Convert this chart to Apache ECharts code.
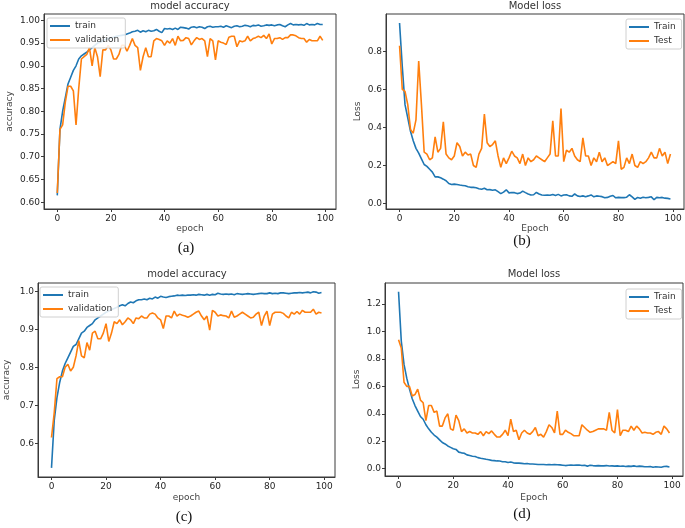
<!DOCTYPE html>
<html><head><meta charset="utf-8">
<script src="https://cdn.jsdelivr.net/npm/echarts@6/dist/echarts.min.js"></script>
<style>html,body{margin:0;padding:0;background:#fff}#c{width:685px;height:528px}</style>
</head><body><div id="c"></div>
<script>
const xTicks = [0, 20, 40, 60, 80, 100];
const aYTicks = [0.60, 0.65, 0.70, 0.75, 0.80, 0.85, 0.90, 0.95, 1.00];
const bYTicks = [0.0, 0.2, 0.4, 0.6, 0.8];
const cYTicks = [0.6, 0.7, 0.8, 0.9, 1.0];
const dYTicks = [0.0, 0.2, 0.4, 0.6, 0.8, 1.0, 1.2];

const aTrain = [0.615,0.76,0.80,0.83,0.86,0.875,0.89,0.90,0.915,0.922,0.926,0.93,0.935,0.94,0.945,0.95,0.952,0.955,0.958,0.96,
0.962,0.963,0.965,0.966,0.967,0.968,0.97,0.972,0.975,0.976,0.978,0.974,0.977,0.975,0.978,0.976,0.977,0.98,0.976,0.973,
0.982,0.981,0.982,0.98,0.983,0.98,0.985,0.984,0.983,0.981,0.985,0.986,0.984,0.986,0.985,0.982,0.986,0.987,0.985,0.986,
0.986,0.987,0.985,0.988,0.986,0.984,0.987,0.988,0.986,0.987,0.989,0.988,0.986,0.989,0.988,0.99,0.987,0.988,0.99,0.989,
0.99,0.988,0.99,0.991,0.988,0.986,0.99,0.993,0.99,0.991,0.99,0.991,0.989,0.993,0.99,0.991,0.99,0.993,0.991,0.991];
const aVal = [0.62,0.76,0.77,0.82,0.855,0.855,0.845,0.77,0.85,0.915,0.92,0.925,0.94,0.90,0.94,0.92,0.876,0.935,0.935,0.945,
0.935,0.915,0.915,0.925,0.945,0.945,0.932,0.945,0.96,0.945,0.94,0.89,0.92,0.94,0.92,0.92,0.955,0.96,0.958,0.955,
0.945,0.955,0.95,0.96,0.945,0.965,0.955,0.956,0.962,0.96,0.946,0.955,0.962,0.958,0.96,0.955,0.92,0.96,0.955,0.913,
0.955,0.952,0.95,0.947,0.963,0.965,0.965,0.942,0.955,0.953,0.955,0.965,0.955,0.96,0.962,0.965,0.962,0.967,0.96,0.97,
0.948,0.96,0.96,0.962,0.958,0.962,0.962,0.968,0.968,0.966,0.962,0.96,0.96,0.952,0.958,0.955,0.955,0.955,0.965,0.956];

const bTrain = [0.95,0.72,0.52,0.45,0.38,0.33,0.29,0.265,0.235,0.205,0.195,0.18,0.165,0.14,0.14,0.135,0.128,0.12,0.105,0.1,
0.102,0.1,0.097,0.095,0.093,0.088,0.085,0.085,0.083,0.078,0.075,0.08,0.072,0.073,0.07,0.072,0.062,0.052,0.06,0.072,
0.056,0.058,0.057,0.052,0.055,0.065,0.057,0.05,0.045,0.046,0.058,0.05,0.045,0.043,0.045,0.043,0.047,0.042,0.048,0.04,
0.045,0.046,0.04,0.038,0.05,0.04,0.037,0.04,0.036,0.04,0.045,0.035,0.04,0.038,0.036,0.03,0.032,0.038,0.042,0.03,
0.032,0.031,0.031,0.033,0.046,0.035,0.022,0.032,0.028,0.033,0.03,0.032,0.035,0.02,0.032,0.03,0.032,0.028,0.027,0.024];
const bTest = [0.83,0.60,0.59,0.52,0.39,0.37,0.44,0.75,0.52,0.27,0.26,0.23,0.24,0.35,0.27,0.29,0.43,0.26,0.24,0.23,
0.25,0.32,0.30,0.25,0.27,0.255,0.26,0.20,0.19,0.26,0.29,0.47,0.32,0.30,0.31,0.33,0.25,0.19,0.24,0.21,
0.24,0.275,0.25,0.24,0.21,0.26,0.20,0.24,0.22,0.23,0.25,0.24,0.23,0.22,0.24,0.26,0.435,0.25,0.25,0.50,
0.22,0.28,0.27,0.29,0.25,0.23,0.22,0.345,0.25,0.25,0.20,0.24,0.22,0.27,0.22,0.24,0.20,0.21,0.22,0.21,
0.33,0.18,0.19,0.24,0.21,0.26,0.20,0.19,0.22,0.21,0.22,0.24,0.27,0.24,0.24,0.29,0.25,0.27,0.21,0.26];

const cTrain = [0.535,0.66,0.72,0.76,0.79,0.81,0.825,0.84,0.855,0.86,0.875,0.89,0.895,0.905,0.91,0.915,0.925,0.93,0.935,0.94,
0.945,0.948,0.952,0.955,0.958,0.962,0.965,0.962,0.968,0.972,0.97,0.975,0.978,0.978,0.98,0.978,0.982,0.98,0.985,0.982,
0.987,0.985,0.984,0.986,0.987,0.988,0.99,0.989,0.99,0.989,0.99,0.99,0.991,0.99,0.992,0.991,0.99,0.992,0.99,0.992,
0.991,0.995,0.993,0.992,0.993,0.992,0.993,0.991,0.994,0.993,0.992,0.993,0.994,0.993,0.992,0.993,0.994,0.995,0.994,0.994,
0.996,0.994,0.995,0.994,0.996,0.996,0.995,0.994,0.995,0.996,0.996,0.997,0.996,0.997,0.998,0.996,0.999,0.998,0.995,0.997];
const cVal = [0.615,0.68,0.77,0.775,0.775,0.80,0.808,0.79,0.80,0.83,0.87,0.83,0.825,0.865,0.845,0.89,0.895,0.875,0.875,0.89,
0.915,0.868,0.89,0.92,0.915,0.925,0.912,0.92,0.93,0.925,0.915,0.93,0.928,0.935,0.93,0.93,0.94,0.943,0.94,0.93,
0.925,0.902,0.935,0.935,0.93,0.948,0.935,0.94,0.937,0.935,0.932,0.935,0.94,0.945,0.948,0.935,0.925,0.935,0.898,0.95,
0.945,0.935,0.938,0.936,0.935,0.93,0.948,0.932,0.935,0.94,0.945,0.94,0.935,0.93,0.932,0.94,0.945,0.91,0.935,0.948,
0.91,0.94,0.945,0.945,0.945,0.942,0.935,0.93,0.945,0.94,0.947,0.94,0.95,0.945,0.945,0.945,0.953,0.94,0.945,0.943];

const dTrain = [1.29,0.93,0.76,0.66,0.58,0.51,0.46,0.42,0.38,0.36,0.32,0.29,0.265,0.245,0.23,0.21,0.19,0.18,0.165,0.155,
0.145,0.14,0.12,0.115,0.112,0.10,0.095,0.09,0.088,0.08,0.075,0.072,0.068,0.065,0.06,0.058,0.056,0.055,0.05,0.05,
0.045,0.048,0.042,0.04,0.04,0.038,0.035,0.037,0.034,0.033,0.032,0.03,0.03,0.03,0.028,0.03,0.028,0.03,0.028,0.027,
0.025,0.022,0.024,0.026,0.024,0.025,0.026,0.023,0.024,0.018,0.025,0.022,0.02,0.022,0.02,0.02,0.022,0.019,0.02,0.018,
0.02,0.017,0.019,0.015,0.018,0.016,0.02,0.015,0.018,0.016,0.014,0.013,0.015,0.01,0.014,0.012,0.01,0.015,0.016,0.012];
const dTest = [0.94,0.88,0.63,0.60,0.60,0.53,0.54,0.58,0.50,0.48,0.35,0.46,0.46,0.41,0.42,0.31,0.31,0.37,0.40,0.29,
0.28,0.39,0.35,0.27,0.29,0.26,0.27,0.26,0.26,0.25,0.27,0.24,0.27,0.255,0.275,0.25,0.23,0.23,0.25,0.28,
0.24,0.36,0.27,0.28,0.21,0.26,0.28,0.26,0.25,0.27,0.30,0.24,0.25,0.23,0.27,0.32,0.30,0.26,0.42,0.25,
0.25,0.28,0.265,0.255,0.24,0.24,0.24,0.32,0.30,0.28,0.265,0.27,0.28,0.29,0.29,0.29,0.28,0.41,0.28,0.26,
0.43,0.24,0.28,0.28,0.27,0.31,0.28,0.31,0.29,0.26,0.265,0.26,0.26,0.25,0.265,0.27,0.25,0.31,0.29,0.26];

const BLUE = '#1f77b4', ORANGE = '#ff7f0e';
const FONT = 'DejaVu Sans';
const toPts = arr => arr.map((v, i) => [i, v]);

const panels = [
  {grid:{left:44, top:14, width:292, height:195}, ymin:0.585, ymax:1.014, yt:aYTicks, dec:2, xname:'epoch', yname:'accuracy', ygap:30, xgap:13,
   s:[['train', aTrain, BLUE], ['validation', aVal, ORANGE]], legend:{left:47, top:18}},
  {grid:{left:386, top:14, width:298, height:195}, ymin:-0.029, ymax:0.997, yt:bYTicks, dec:1, xname:'Epoch', yname:'Loss', ygap:24, xgap:15,
   s:[['Train', bTrain, BLUE], ['Test', bTest, ORANGE]], legend:{left:626, top:19}},
  {grid:{left:38, top:283, width:297, height:194}, ymin:0.511, ymax:1.022, yt:cYTicks, dec:1, xname:'epoch', yname:'accuracy', ygap:27, xgap:16,
   s:[['train', cTrain, BLUE], ['validation', cVal, ORANGE]], legend:{left:40, top:287}},
  {grid:{left:385, top:283, width:298, height:193}, ymin:-0.054, ymax:1.354, yt:dYTicks, dec:1, xname:'Epoch', yname:'Loss', ygap:24, xgap:17,
   s:[['Train', dTrain, BLUE], ['Test', dTest, ORANGE]], legend:{left:626, top:289}}
];

const titles = [
  ['model accuracy', 190, 6], ['Model loss', 535, 6], ['model accuracy', 187, 274], ['Model loss', 534, 274]
];
const captions = [['(a)', 186, 248], ['(b)', 522, 241], ['(c)', 184, 517], ['(d)', 522, 514]];

const grid = [], xAxis = [], yAxis = [], series = [], legend = [];
panels.forEach((p, k) => {
  grid.push(Object.assign({show:true, borderColor:'#3a3a3a', borderWidth:1, backgroundColor:'#fff'}, p.grid));
  xAxis.push({type:'value', gridIndex:k, min:-4.95, max:103.95, splitLine:{show:false},
    name:p.xname, nameLocation:'middle', nameGap:p.xgap, nameTextStyle:{fontFamily:FONT, fontSize:9, color:'#444'},
    axisLine:{show:true, onZero:false, lineStyle:{color:'#3a3a3a'}},
    axisTick:{show:true, length:3, customValues:xTicks, lineStyle:{color:'#3a3a3a'}},
    axisLabel:{customValues:xTicks, fontFamily:FONT, fontSize:9, color:'#262626', margin:5}});
  yAxis.push({type:'value', gridIndex:k, min:p.ymin, max:p.ymax, splitLine:{show:false},
    name:p.yname, nameLocation:'middle', nameGap:p.ygap, nameRotate:90, nameTextStyle:{fontFamily:FONT, fontSize:9, color:'#444'},
    axisLine:{show:true, onZero:false, lineStyle:{color:'#3a3a3a'}},
    axisTick:{show:true, length:3, customValues:p.yt, lineStyle:{color:'#3a3a3a'}},
    axisLabel:{customValues:p.yt, fontFamily:FONT, fontSize:9, color:'#262626', margin:4,
      formatter: v => Number(v).toFixed(p.dec)}});
  p.s.forEach(([name, arr, col]) => {
    series.push({type:'line', name, xAxisIndex:k, yAxisIndex:k, data:toPts(arr), showSymbol:false, symbol:'none',
      lineStyle:{color:col, width:1.6}, itemStyle:{color:col}, animation:false});
  });
  legend.push({orient:'vertical', left:p.legend.left, top:p.legend.top, data:p.s.map(s => s[0]),
    icon:'rect', itemWidth:20, itemHeight:2, itemGap:2, padding:[2,6,2,3],
    backgroundColor:'rgba(255,255,255,0.85)', borderColor:'#d0d0d0', borderWidth:1, borderRadius:2,
    textStyle:{fontFamily:FONT, fontSize:9, color:'#333', lineHeight:12}, selectedMode:false});
});

const graphic = [];
titles.forEach(([t, x, y]) => graphic.push({type:'text', x, y, style:{text:t, fontFamily:FONT, fontSize:10, fill:'#333', textAlign:'center', textVerticalAlign:'middle'}}));
captions.forEach(([t, x, y]) => graphic.push({type:'text', x, y, style:{text:t, fontFamily:'Liberation Serif', fontSize:15, fill:'#111', textAlign:'center', textVerticalAlign:'middle'}}));

const chart = echarts.init(document.getElementById('c'), null, {renderer:'canvas'});
chart.setOption({animation:false, grid, xAxis, yAxis, series, legend, graphic});
</script></body></html>
